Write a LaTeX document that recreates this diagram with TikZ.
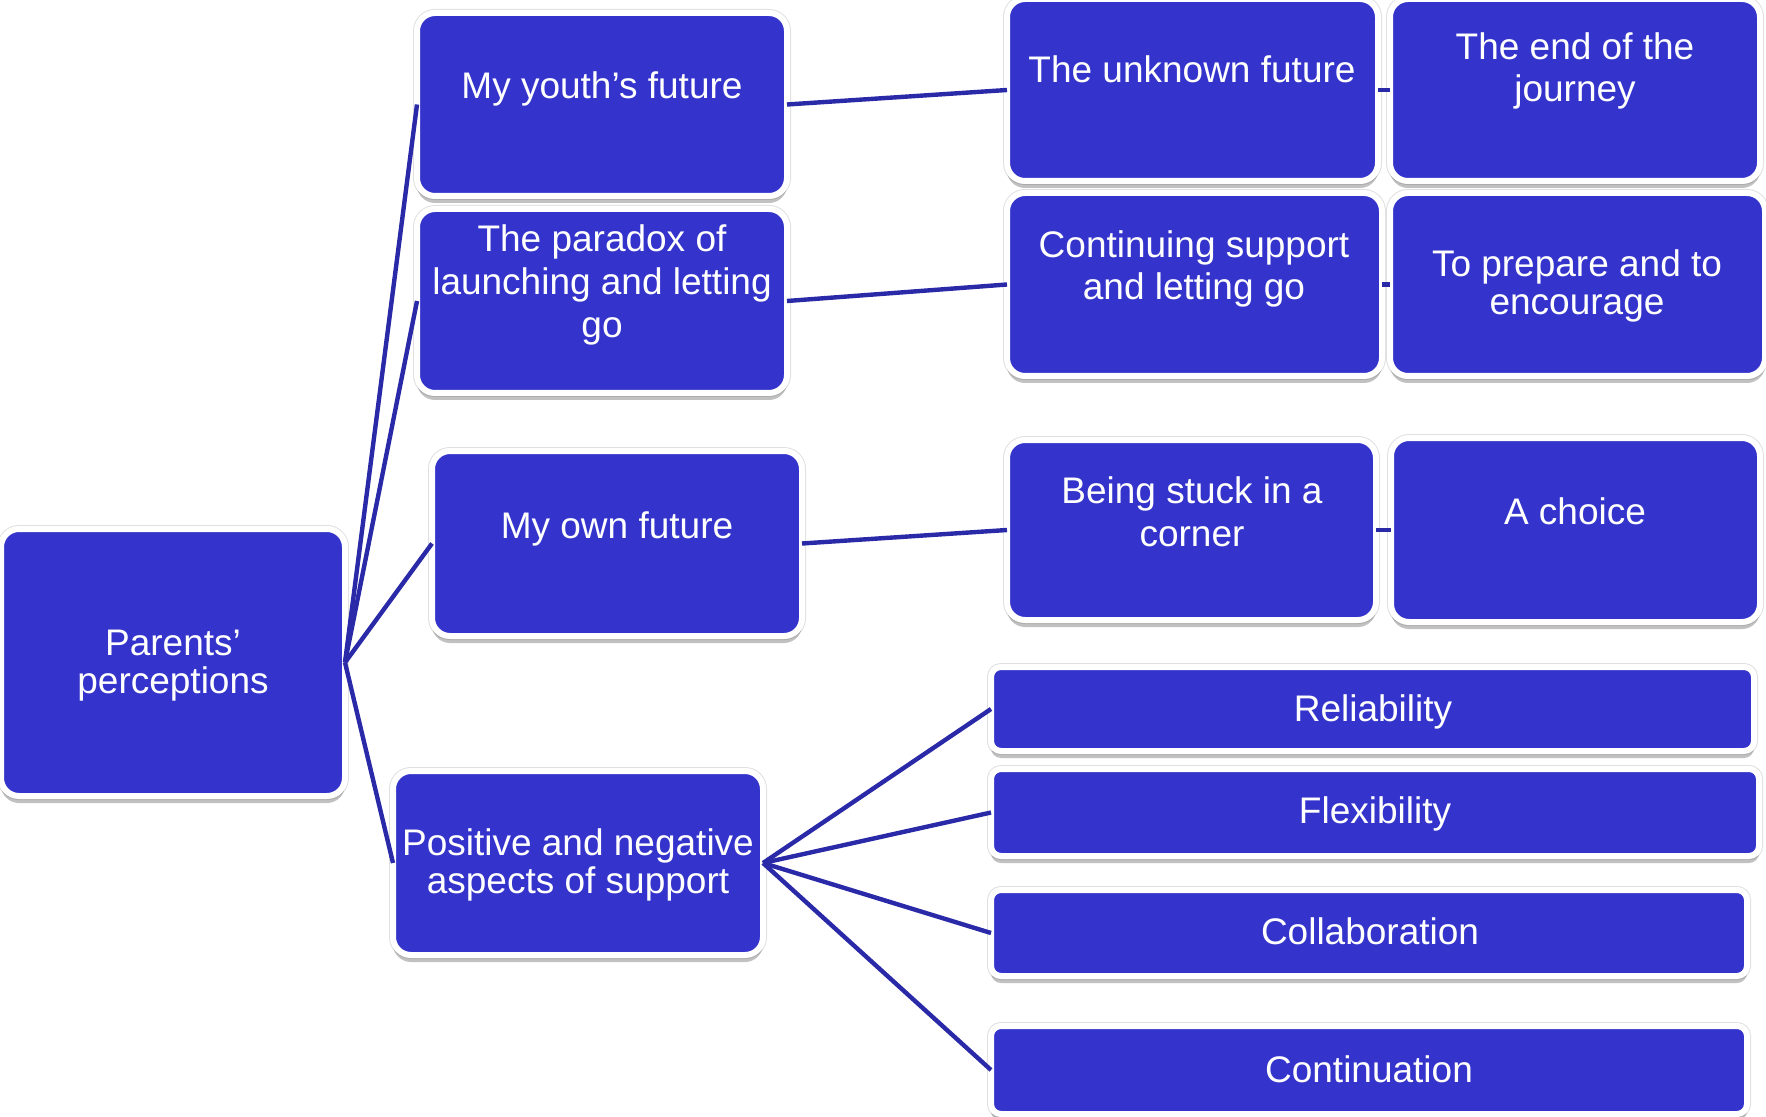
\documentclass[tikz,border=0pt]{standalone}
\usepackage{fontspec}
\setmainfont{Liberation Sans}
\usetikzlibrary{shadows}
\definecolor{boxblue}{RGB}{52,52,204}
\definecolor{linecol}{RGB}{42,42,168}
\newcommand{\mylines}[2]{{\fontsize{18.5pt}{#1}\selectfont\begin{tabular}[t]{@{}c@{}}#2\end{tabular}}}
\tikzset{
  box/.style={draw=white, line width=3pt, fill=boxblue, rounded corners=9pt, inner sep=0pt, outer sep=0pt,
    preaction={draw=black!12, line width=4pt},
    drop shadow={shadow xshift=0pt, shadow yshift=-3.5pt, opacity=0.35, fill=black!70}},
  bar/.style={box, rounded corners=5pt},
  txt/.style={text=white, font=\fontsize{18.5pt}{21.5pt}\selectfont, inner sep=0pt, anchor=base},
  conn/.style={draw=linecol, line width=2.2pt}
}
\begin{document}
\begin{tikzpicture}[x=0.5pt, y=-0.5pt]
\useasboundingbox (0,0) rectangle (1766,1117);
% boxes
\node[box, minimum width=172pt, minimum height=133.5pt] (parents) at (173,662.5) {};
\node[box, minimum width=185pt, minimum height=91.5pt] (youth) at (602,104.5) {};
\node[box, minimum width=185pt, minimum height=92pt] (paradox) at (602,301) {};
\node[box, minimum width=185pt, minimum height=92.5pt] (own) at (617,543.5) {};
\node[box, minimum width=185pt, minimum height=92pt] (positive) at (578,863) {};
\node[box, minimum width=185.5pt, minimum height=91pt] (unknown) at (1192.5,90) {};
\node[box, minimum width=185pt, minimum height=91pt] (end) at (1575,90) {};
\node[box, minimum width=187.5pt, minimum height=91.5pt] (continuing) at (1194.5,284.5) {};
\node[box, minimum width=187.5pt, minimum height=91.5pt] (prepare) at (1577.5,284.5) {};
\node[box, minimum width=184.5pt, minimum height=90pt] (stuck) at (1191.5,530) {};
\node[box, minimum width=184.5pt, minimum height=92pt] (choice) at (1575.5,530) {};
\node[bar, minimum width=381.5pt, minimum height=42pt] (reliability) at (1372.5,709) {};
\node[bar, minimum width=384pt, minimum height=43.5pt] (flexibility) at (1375,812.5) {};
\node[bar, minimum width=378pt, minimum height=43pt] (collaboration) at (1369,933) {};
\node[bar, minimum width=378pt, minimum height=44pt] (continuation) at (1369,1070) {};
% texts
\node[txt] (tparents) at (173,655) {\mylines{19pt}{Parents’\\perceptions}};
\node[txt] (tyouth) at (602,99) {My youth’s future};
\node[txt] (tparadox) at (602,252) {\mylines{21.5pt}{The paradox of\\launching and letting\\go}};
\node[txt] (town) at (617,538) {My own future};
\node[txt] (tpositive) at (578,855) {\mylines{19pt}{Positive and negative\\aspects of support}};
\node[txt] (tunknown) at (1192,83) {The unknown future};
\node[txt] (tend) at (1575,60) {\mylines{21pt}{The end of the\\journey}};
\node[txt] (tcontinuing) at (1194,258) {\mylines{21pt}{Continuing support\\and letting go}};
\node[txt] (tprepare) at (1577,277) {\mylines{19pt}{To prepare and to\\encourage}};
\node[txt] (tstuck) at (1192,503) {\mylines{21.5pt}{Being stuck in a\\corner}};
\node[txt] (tchoice) at (1575,524) {A choice};
\node[txt] (treliability) at (1373,721) {Reliability};
\node[txt] (tflexibility) at (1375,823) {Flexibility};
\node[txt] (tcollaboration) at (1370,944) {Collaboration};
\node[txt] (tcontinuation) at (1369,1082) {Continuation};
% connectors
\draw[conn] (parents.east) -- (youth.west);
\draw[conn] (parents.east) -- (paradox.west);
\draw[conn] (parents.east) -- (own.west);
\draw[conn] (parents.east) -- (positive.west);
\draw[conn] (youth.east) -- (unknown.west);
\draw[conn] (paradox.east) -- (continuing.west);
\draw[conn] (own.east) -- (stuck.west);
\draw[conn] (unknown.east) -- (end.west);
\draw[conn] (continuing.east) -- (prepare.west);
\draw[conn] (stuck.east) -- (choice.west);
\draw[conn] (positive.east) -- (reliability.west);
\draw[conn] (positive.east) -- (flexibility.west);
\draw[conn] (positive.east) -- (collaboration.west);
\draw[conn] (positive.east) -- (continuation.west);
\end{tikzpicture}
\end{document}
